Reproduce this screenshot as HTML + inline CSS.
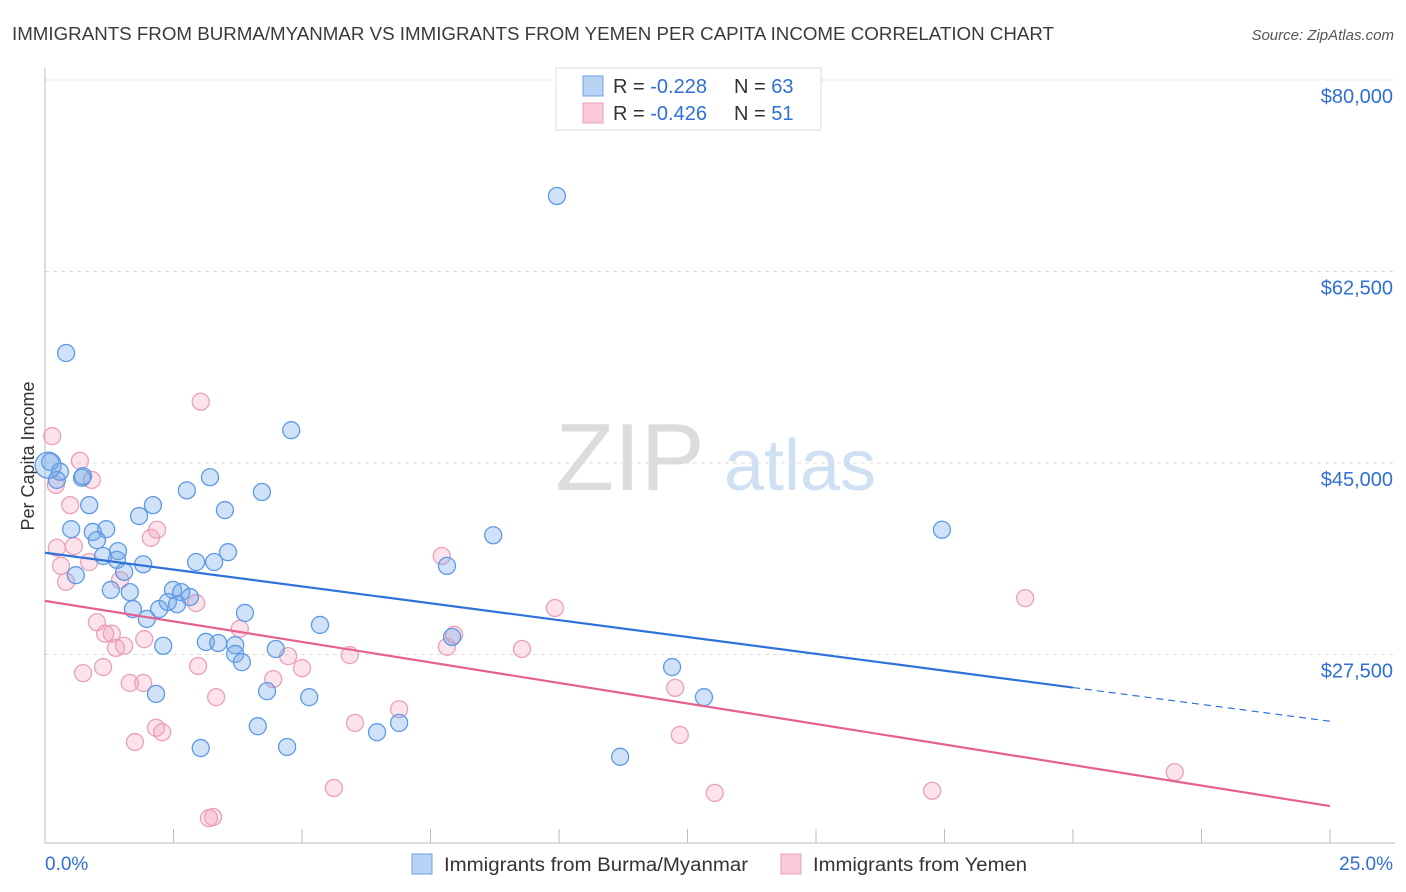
<!DOCTYPE html>
<html><head><meta charset="utf-8"><style>
body{margin:0;background:#fff;font-family:"Liberation Sans",sans-serif;}
#wrap{position:relative;width:1406px;height:892px;overflow:hidden;}
svg text{font-family:"Liberation Sans",sans-serif;}
</style></head><body>
<div id="wrap">
<svg id="svg" width="1406" height="892">
<text x="12" y="40" font-size="18" fill="#3a3a3a" textLength="1042" lengthAdjust="spacingAndGlyphs">IMMIGRANTS FROM BURMA/MYANMAR VS IMMIGRANTS FROM YEMEN PER CAPITA INCOME CORRELATION CHART</text>
<text x="1394" y="40" font-size="15" fill="#555" font-style="italic" text-anchor="end">Source: ZipAtlas.com</text>
<text x="34" y="456" font-size="18" fill="#333" text-anchor="middle" transform="rotate(-90 34 456)">Per Capita Income</text>
<g>
<text x="630" y="490" font-size="96" fill="#dcdcdc" font-family="Liberation Serif" text-anchor="middle">ZIP</text>
<text x="800" y="490" font-size="72" fill="#cfe0f3" text-anchor="middle">atlas</text>
</g>
<g id="grid"></g>
<g id="axes"></g>
<g id="marks"></g>
<g>
<rect x="556" y="68" width="265" height="62" fill="#fff" stroke="#ddd"/>
<rect x="583" y="76" width="20" height="20" fill="#b9d3f5" stroke="#6fa3e6"/>
<rect x="583" y="103" width="20" height="20" fill="#f9c9d8" stroke="#ec9fba"/>
<text x="613" y="93" font-size="20" fill="#333">R = <tspan fill="#2f6fd6">-0.228</tspan><tspan x="734" fill="#333">N = </tspan><tspan fill="#2f6fd6">63</tspan></text>
<text x="613" y="120" font-size="20" fill="#333">R = <tspan fill="#2f6fd6">-0.426</tspan><tspan x="734" fill="#333">N = </tspan><tspan fill="#2f6fd6"> 51</tspan></text>
</g>
<g>
<rect x="412" y="854" width="20" height="20" fill="#b9d3f5" stroke="#6fa3e6"/>
<text x="444" y="871" font-size="19" fill="#333" textLength="304" lengthAdjust="spacingAndGlyphs">Immigrants from Burma/Myanmar</text>
<rect x="781" y="854" width="20" height="20" fill="#f9c9d8" stroke="#ec9fba"/>
<text x="813" y="871" font-size="19" fill="#333" textLength="214" lengthAdjust="spacingAndGlyphs">Immigrants from Yemen</text>
</g>
</svg>
</div>
<script>
const yTicks=[27500,45000,62500,80000];
const yTickLabels=["$27,500","$45,000","$62,500","$80,000"];
const xTickLabels=["0.0%","25.0%"];
const blueX=[9.96,0.41,4.79,3.21,2.76,4.22,3.50,2.10,0.86,1.83,0.51,0.93,1.19,1.01,1.42,1.13,1.40,1.91,3.56,2.94,3.29,0.60,1.54,1.28,1.65,2.49,2.65,2.82,2.39,2.22,2.57,1.71,1.98,3.89,5.35,2.30,3.13,3.37,3.70,3.70,3.83,4.49,4.32,5.14,2.16,4.14,3.03,4.71,6.46,6.89,7.82,8.72,7.92,17.45,12.20,12.82,11.19,0.10,0.29,0.72,0.23,0.74,0.06];
const blueY=[69400,55050,48000,43700,42500,42350,40700,41150,41150,40150,38950,38700,38950,37950,36950,36500,36150,35750,36850,35950,35950,34750,35050,33400,33200,33400,33200,32750,32300,31650,32100,31650,30750,31300,30200,28300,28650,28550,28350,27550,26800,28000,24150,23600,23900,20950,18950,19050,20400,21250,35600,38400,29100,38900,26350,23600,18150,45100,44200,43650,43450,43800,44800];
const pinkX=[0.14,3.03,0.68,0.91,0.21,0.49,0.23,0.56,0.31,0.86,0.41,1.46,2.18,2.06,2.94,1.01,1.30,1.17,1.54,1.38,1.93,3.79,4.73,5.00,5.93,2.98,1.13,0.74,1.65,1.91,4.44,3.33,1.75,2.16,2.28,6.03,6.89,7.72,7.96,7.82,9.28,9.92,12.26,12.35,13.03,19.07,21.98,17.26,5.62,3.19,3.27];
const pinkY=[47450,50600,45200,43450,43000,41150,37250,37400,35600,35950,34150,34300,38900,38150,32200,30450,29400,29400,28300,28100,28900,29850,27350,26250,27450,26450,26350,25800,24900,24900,25250,23600,19500,20800,20400,21250,22500,36500,29300,28200,28000,31750,24450,20150,14850,32650,16750,15050,15300,12550,12650];
const blueTrend=[36800,21400];
const blueSolidEnd=20.0;
const pinkTrend=[32400,13650];
const X0=45,X1=1330,Y80=80,PXPER=191.5/17500;
function sx(v){return X0+(X1-X0)*v/25;}
function sy(v){return Y80+(80000-v)*PXPER;}
const NS="http://www.w3.org/2000/svg";
function mk(tag,attrs,parent){const e=document.createElementNS(NS,tag);for(const k in attrs)e.setAttribute(k,attrs[k]);parent.appendChild(e);return e;}
const grid=document.getElementById('grid'),axes=document.getElementById('axes'),marks=document.getElementById('marks');
yTicks.forEach((t,i)=>{
 const l=mk('line',{x1:45,x2:1395,y1:sy(t),y2:sy(t),stroke:'#ddd','stroke-dasharray':'4,4'},grid);
 
 
 const tx=mk('text',{x:1393,y:sy(t)+23,'font-size':20,fill:'#2f6fd6','text-anchor':'end'},axes);
 tx.textContent=yTickLabels[i];
 
 
});
const ya=mk('line',{x1:45,x2:45,y1:68,y2:843,stroke:'#bbb'},axes);


const xa=mk('line',{x1:45,x2:1395,y1:843,y2:843,stroke:'#bbb'},axes);


for(let k=0;k<=10;k++){
 const v=k*2.5;
 const t=mk('line',{x1:sx(v),x2:sx(v),y1:829,y2:843,stroke:'#bbb'},axes);
 
 
}
[[0,'start',45],[25,'end',1393]].forEach((a,i)=>{
 const tx=mk('text',{x:a[2],y:870,'font-size':19,fill:'#2f6fd6','text-anchor':a[1]},axes);
 tx.textContent=xTickLabels[i];
 
 
});
function pts(xs,ys,fill,stroke,name){
 xs.forEach((x,i)=>{
  const big=(name==='burma-point'&&i===xs.length-1);
  const c=mk('circle',{cx:sx(x),cy:sy(ys[i]),r:big?13:8.5,fill:fill,stroke:stroke,'stroke-width':1.3},marks);
  
  
 });
}
pts(pinkX,pinkY,'rgba(242,160,190,0.3)','#eaa0bb','yemen-point');
pts(blueX,blueY,'rgba(110,165,230,0.32)','#5e9ae4','burma-point');
function yAt(tr,x){return tr[0]+(tr[1]-tr[0])*x/25;}
const b1=mk('line',{x1:sx(0),y1:sy(blueTrend[0]),x2:sx(blueSolidEnd),y2:sy(yAt(blueTrend,blueSolidEnd)),stroke:'#2f72d8','stroke-width':2.2},marks);


const b2=mk('line',{x1:sx(blueSolidEnd),y1:sy(yAt(blueTrend,blueSolidEnd)),x2:sx(25),y2:sy(blueTrend[1]),stroke:'#2f72d8','stroke-width':1.2,'stroke-dasharray':'7,5'},marks);


const p1=mk('line',{x1:sx(0),y1:sy(pinkTrend[0]),x2:sx(25),y2:sy(pinkTrend[1]),stroke:'#e5628f','stroke-width':2.2},marks);


</script>
</body></html>
